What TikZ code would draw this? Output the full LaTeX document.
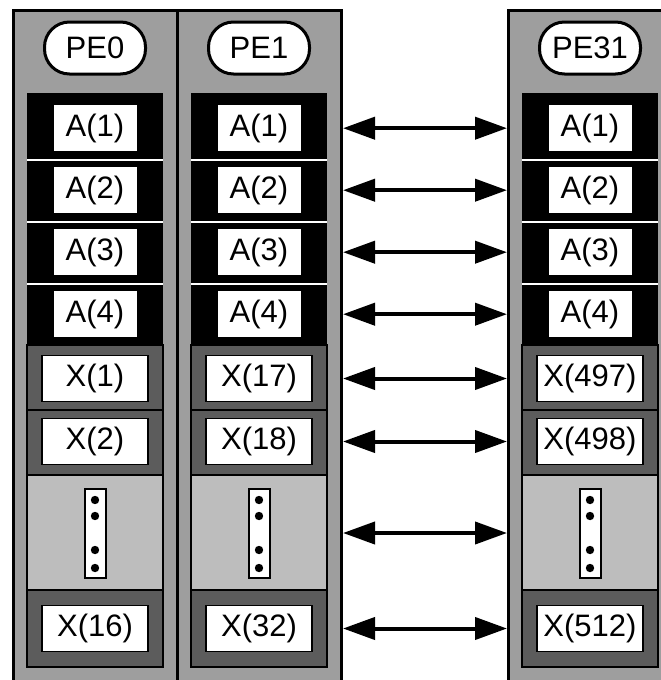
\documentclass[tikz,border=0pt]{standalone}
\usepackage{fontspec}
\setmainfont{Liberation Sans}
\usetikzlibrary{arrows.meta}
\definecolor{colbg}{gray}{0.62}
\definecolor{xbg}{gray}{0.36}
\definecolor{ltbg}{gray}{0.74}
\begin{document}
\begin{tikzpicture}[x=1pt,y=-1pt,
  lbl/.style={font=\fontsize{31}{32}\selectfont, inner sep=0pt},
  colbox/.style={draw, line width=3pt, fill=colbg, minimum width=164pt, minimum height=720pt, anchor=north west, inner sep=0pt},
  abox/.style={lbl, fill=white, minimum width=83pt, minimum height=46pt},
  xbox/.style={lbl, draw=black, line width=1.8pt, fill=white, minimum width=106pt, minimum height=46pt},
  pill/.style={lbl, draw, line width=3pt, fill=white, rounded corners=25pt, minimum width=101pt, minimum height=52pt},
  dotbox/.style={draw, line width=2pt, fill=white, minimum width=21pt, minimum height=89pt, inner sep=0pt},
  blk/.style={draw, line width=1.5pt},
  link/.style={line width=4pt, {Triangle[length=32pt,width=22pt]}-{Triangle[length=32pt,width=22pt]}}
]
\useasboundingbox (0,0) rectangle (661,680);
\clip (0,0) rectangle (661,680);
\fill[white] (0,0) rectangle (661,680);
\foreach \c/\n/\pe/\xa/\xb/\xc in {12/0/PE0/{X(1)}/{X(2)}/{X(16)}, 176/1/PE1/{X(17)}/{X(18)}/{X(32)}, 507/31/PE31/{X(497)}/{X(498)}/{X(512)}} {
  \node[colbox] (col\n) at (\c,9) {};
  \node[pill] (pe\n) at (\c+83,48) {\pe};
  \fill (\c+15,93) rectangle (\c+151,345);
  \foreach \y in {160,222,284} \draw[white, line width=2.5pt] (\c+15,\y) -- (\c+151,\y);
  \foreach \k/\t in {1/105,2/167,3/229,4/291}
    \node[abox, anchor=north] (a\k-\n) at (\c+83,\t) {A(\k)};
  \draw[blk, fill=xbg] (\c+15,345) rectangle (\c+151,410);
  \node[xbox] (x1-\n) at (\c+83,378.5) {\xa};
  \draw[blk, fill=xbg] (\c+15,410) rectangle (\c+151,475);
  \node[xbox] (x2-\n) at (\c+83,441.5) {\xb};
  \draw[blk, fill=ltbg] (\c+15,475) rectangle (\c+151,590);
  \node[dotbox] (dots-\n) at (\c+83,533) {};
  \foreach \y in {500,516,550,568} \fill (\c+83,\y) circle (4.2pt);
  \draw[blk, fill=xbg] (\c+15,590) rectangle (\c+151,667);
  \node[xbox] (x3-\n) at (\c+83,628.5) {\xc};
}
\foreach \r in {a1,a2,a3,a4,x1,x2,dots,x3}
  \draw[link] (col1.east |- \r-1.center) -- (col31.west |- \r-31.center);
\end{tikzpicture}
\end{document}
